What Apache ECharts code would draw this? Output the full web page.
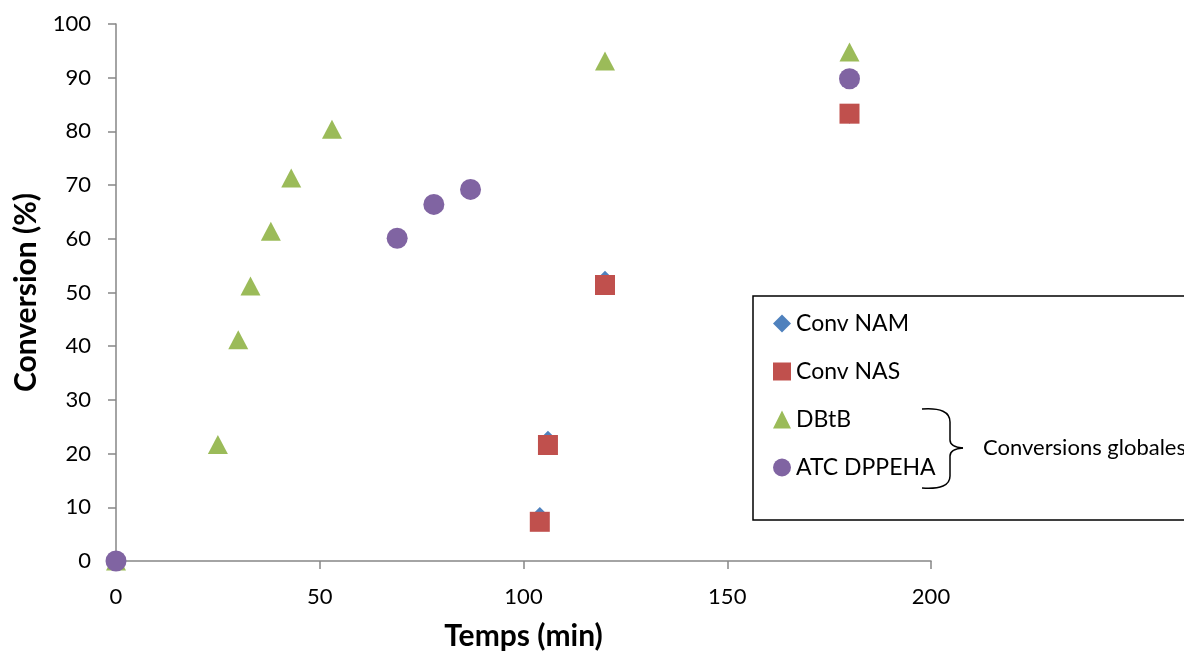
<!DOCTYPE html>
<html>
<head>
<meta charset="utf-8">
<script src="https://cdn.jsdelivr.net/npm/echarts@6/dist/echarts.min.js"></script>
<style>
html,body{margin:0;padding:0;background:#fff;}
#c{width:1184px;height:653px;}
</style>
</head>
<body>
<div id="c"></div>
<script>
const seriesNames = ['Conv NAM', 'Conv NAS', 'DBtB', 'ATC DPPEHA'];
const convNAM = [[104, 8.3], [106, 22.5], [120, 52.3], [180, 83.2]];
const convNAS = [[104, 7.3], [106, 21.6], [120, 51.4], [180, 83.3]];
const dbtb = [[0, 0], [25, 21.7], [30, 41.2], [33, 51.2], [38, 61.4], [43, 71.3], [53, 80.4], [120, 93.1], [180, 94.8]];
const atc = [[0, 0], [69, 60.1], [78, 66.4], [87, 69.2], [180, 89.8]];
const xTicks = [0, 50, 100, 150, 200];
const yTicks = [0, 10, 20, 30, 40, 50, 60, 70, 80, 90, 100];
const bracketLabel = 'Conversions globales';

const FONT = 'Lato, "Open Sans", sans-serif';
const chart = echarts.init(document.getElementById('c'), null, {renderer: 'canvas'});
const axisCommon = {
  axisLine: {show: true, lineStyle: {color: '#868686', width: 1.5}},
  axisTick: {show: true, inside: false, length: 8, lineStyle: {color: '#868686', width: 1.5}},
  splitLine: {show: false},
  nameLocation: 'middle',
  nameTextStyle: {fontFamily: FONT, fontSize: 30, fontWeight: 'bold', color: '#000'}
};
const braceStyle = {fill: null, stroke: '#000', lineWidth: 1.5};
chart.setOption({
  animation: false,
  backgroundColor: '#fff',
  grid: {left: 116, top: 24, width: 815, height: 537, containLabel: false, outerBoundsMode: 'none'},
  xAxis: Object.assign({}, axisCommon, {
    type: 'value', min: xTicks[0], max: xTicks[xTicks.length - 1], interval: 50,
    name: 'Temps (min)', nameGap: 60,
    axisLabel: {fontFamily: FONT, fontSize: 22, color: '#000', margin: 25}
  }),
  yAxis: Object.assign({}, axisCommon, {
    type: 'value', min: yTicks[0], max: yTicks[yTicks.length - 1], interval: 10,
    name: 'Conversion (%)', nameGap: 73,
    axisLabel: {fontFamily: FONT, fontSize: 22, color: '#000', margin: 25}
  }),
  legend: {
    orient: 'vertical', left: 773, top: 312, padding: 0,
    itemWidth: 18, itemHeight: 18, itemGap: 25,
    textStyle: {fontFamily: FONT, fontSize: 23, color: '#000'},
    data: seriesNames
  },
  series: [
    {name: seriesNames[0], type: 'scatter', data: convNAM, symbol: 'diamond', symbolSize: 19, itemStyle: {color: '#4F81BD', opacity: 1}},
    {name: seriesNames[1], type: 'scatter', data: convNAS, symbol: 'rect', symbolSize: 20, itemStyle: {color: '#C0504D', opacity: 1}},
    {name: seriesNames[2], type: 'scatter', data: dbtb, symbol: 'triangle', symbolSize: [20, 19], itemStyle: {color: '#9BBB59', opacity: 1}},
    {name: seriesNames[3], type: 'scatter', data: atc, symbol: 'circle', symbolSize: 21, itemStyle: {color: '#8064A2', opacity: 1}}
  ],
  graphic: [
    {type: 'rect', z: -1, shape: {x: 753, y: 296, width: 460, height: 224},
     style: {fill: '#fff', stroke: '#000', lineWidth: 1.5}},
    {type: 'bezierCurve', shape: {x1: 922, y1: 409, cpx1: 950, cpy1: 407, x2: 950, y2: 422}, style: braceStyle},
    {type: 'line', shape: {x1: 950, y1: 422, x2: 950, y2: 440}, style: braceStyle},
    {type: 'bezierCurve', shape: {x1: 950, y1: 440, cpx1: 950, cpy1: 447, x2: 963, y2: 448}, style: braceStyle},
    {type: 'bezierCurve', shape: {x1: 963, y1: 448, cpx1: 950, cpy1: 449, x2: 950, y2: 456}, style: braceStyle},
    {type: 'line', shape: {x1: 950, y1: 456, x2: 950, y2: 476}, style: braceStyle},
    {type: 'bezierCurve', shape: {x1: 950, y1: 476, cpx1: 950, cpy1: 490, x2: 922, y2: 488}, style: braceStyle},
    {type: 'text', x: 983, y: 448,
     style: {text: bracketLabel, fontFamily: FONT, fontSize: 22, fill: '#000', verticalAlign: 'middle'}}
  ]
});
</script>
</body>
</html>
